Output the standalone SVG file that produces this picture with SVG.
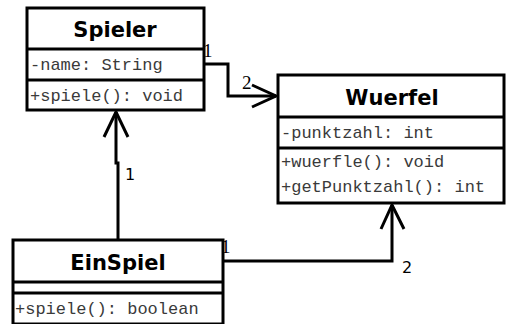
<svg xmlns="http://www.w3.org/2000/svg" width="506" height="324" viewBox="0 0 506 324">
  <style>
    .box { fill: #fff; stroke: #000; stroke-width: 3; }
    .sep { stroke: #000; stroke-width: 3; }
    .title { font-family: "DejaVu Sans", sans-serif; font-weight: bold; font-size: 21px; text-anchor: middle; fill: #000; }
    .member { font-family: "Liberation Mono", "DejaVu Sans Mono", monospace; font-size: 17px; fill: #3a3a3a; }
    .edge { fill: none; stroke: #000; stroke-width: 3; }
    .mult { font-family: "DejaVu Sans", sans-serif; font-size: 16px; fill: #000; }
    .mults { font-family: "Liberation Serif", "DejaVu Serif", serif; font-size: 19px; fill: #000; }
  </style>

  <g id="connectors">
    <!-- Spieler -> Wuerfel -->
    <path class="edge" d="M204,64 H228 V96 H276"/>
    <path class="edge" d="M252,85 L276,96 L252,107"/>
    <text class="mults" x="203" y="57">1</text>
    <text class="mults" x="242" y="89">2</text>
    <!-- EinSpiel -> Spieler -->
    <path class="edge" d="M118,240 V163 H116 V112"/>
    <path class="edge" d="M104,137 L116,112 L128,137"/>
    <text class="mult" x="125" y="180">1</text>
    <text class="mults" x="127" y="256">1</text>
    <!-- EinSpiel -> Wuerfel -->
    <path class="edge" d="M223,261 H392 V205"/>
    <path class="edge" d="M381,229 L392,205 L404,229"/>
    <text class="mults" x="221" y="253">1</text>
    <text class="mult" x="402" y="273">2</text>
  </g>

  <g id="Spieler">
    <rect class="box" x="27" y="8" width="177" height="102"/>
    <line class="sep" x1="27" y1="49" x2="204" y2="49"/>
    <line class="sep" x1="27" y1="80" x2="204" y2="80"/>
    <text class="title" x="115" y="37">Spieler</text>
    <text class="member" x="30" y="70">-name: String</text>
    <text class="member" x="30" y="101">+spiele(): void</text>
  </g>

  <g id="Wuerfel">
    <rect class="box" x="278" y="75" width="226" height="128"/>
    <line class="sep" x1="278" y1="117" x2="504" y2="117"/>
    <line class="sep" x1="278" y1="148" x2="504" y2="148"/>
    <text class="title" x="392" y="105">Wuerfel</text>
    <text class="member" x="281" y="138">-punktzahl: int</text>
    <text class="member" x="281" y="167">+wuerfle(): void</text>
    <text class="member" x="281" y="192">+getPunktzahl(): int</text>
  </g>

  <g id="EinSpiel">
    <rect class="box" x="13" y="240" width="210" height="84"/>
    <line class="sep" x1="13" y1="282" x2="223" y2="282"/>
    <line class="sep" x1="13" y1="293" x2="223" y2="293"/>
    <text class="title" x="118" y="270">EinSpiel</text>
    <text class="member" x="15" y="314">+spiele(): boolean</text>
  </g>
</svg>
